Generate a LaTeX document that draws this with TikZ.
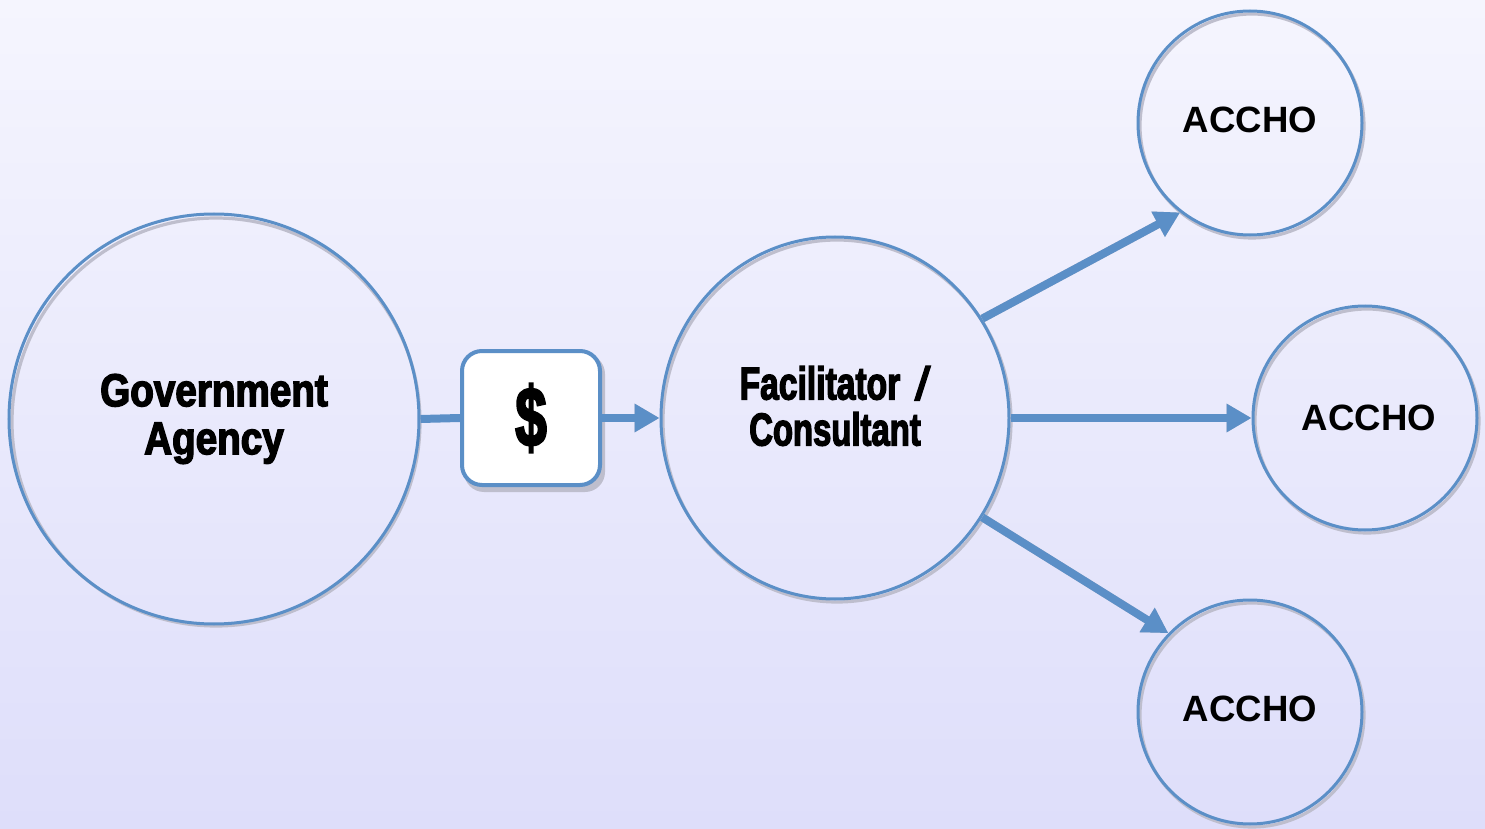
\documentclass[tikz,border=0pt]{standalone}
\usepackage{fontspec}
\usepackage{graphicx}
\setmainfont{Liberation Sans}
\newfontfamily\heavyfont[FakeStretch=0.84,FakeBold=3]{Liberation Sans Bold}
\newfontfamily\labelfont{Liberation Sans Bold}
\usetikzlibrary{arrows.meta,shapes.geometric}
\definecolor{edgeblue}{RGB}{91,143,199}
\definecolor{bgtop}{RGB}{245,245,254}
\definecolor{bgbottom}{RGB}{222,222,250}
\definecolor{shadowgray}{RGB}{190,190,205}
\tikzset{
  ring/.style={circle, draw=edgeblue, line width=1.5pt, inner sep=0pt, align=center},
  oval/.style={ellipse, draw=edgeblue, line width=1.5pt, inner sep=0pt, align=center},
  ringshadow/.style={circle, draw=shadowgray, line width=1.6pt, inner sep=0pt},
  ovalshadow/.style={ellipse, draw=shadowgray, line width=1.6pt, inner sep=0pt},
  moneybox/.style={draw=edgeblue, line width=2pt, fill=white, rounded corners=10pt,
    minimum width=69pt, minimum height=67pt, inner sep=0pt},
  flow/.style={draw=edgeblue, line width=4pt, -{Triangle[length=12.5pt,width=13.5pt]}},
  flowshadow/.style={draw=shadowgray, line width=4pt, -{Triangle[length=12.5pt,width=13.5pt]}},
  link/.style={draw=edgeblue, line width=4pt},
  heavytext/.style={font=\heavyfont\fontsize{23}{25}\selectfont},
  accholabel/.style={font=\labelfont\fontsize{18.3}{20}\selectfont},
}
\begin{document}
\begin{tikzpicture}[x=0.5pt,y=-0.5pt]
  % background gradient
  \shade[top color=bgtop, bottom color=bgbottom] (0,0) rectangle (1485,829);
  \useasboundingbox (0,0) rectangle (1485,829);

  % soft shadows behind the circles and the box
  \node[ringshadow, minimum size=204pt] at (216,422) {};
  \node[ovalshadow, minimum width=174pt, minimum height=181pt] at (837,421) {};
  \node[ringshadow, minimum size=112pt] at (1252,126) {};
  \node[ringshadow, minimum size=112pt] at (1367,421) {};
  \node[ringshadow, minimum size=112pt] at (1252,715) {};
  \fill[shadowgray, rounded corners=10pt] (464,354) rectangle (605,492);

  % nodes
  \node[ring, minimum size=205pt, heavytext] (ga) at (214,419) {Government\\[-1pt]Agency};
  \node[moneybox, font=\heavyfont\fontsize{42}{42}\selectfont] (money) at (531,418)
    {\scalebox{0.8}[1]{\$}};
  \node[oval, minimum width=174pt, minimum height=181pt,
    label={[name=factext, heavytext, align=center, yshift=6pt]center:%
      \scalebox{0.87}[1]{Facilitator}\hspace{8pt}\textit{/}\\[-2pt]%
      \scalebox{0.85}[1]{Consultant}}] (fac) at (835,418) {};
  \node[ring, minimum size=112pt, accholabel] (a1) at (1250,123) {\raisebox{3.5pt}{ACCHO}};
  \node[ring, minimum size=112pt, accholabel] (a2) at (1365,418) {\hspace{4pt}\raisebox{-3pt}{ACCHO}};
  \node[ring, minimum size=112pt, accholabel] (a3) at (1250,712) {\raisebox{3.5pt}{ACCHO}};

  % connector shadows
  \begin{scope}[shift={(2,4)}]
    \draw[flowshadow] (money.east) -- (fac.west);
    \draw[flowshadow] (fac.34) -- (a1.232);
    \draw[flowshadow] (fac.east) -- (a2.west);
    \draw[flowshadow] (fac.-34) -- (a3.136);
  \end{scope}

  % connectors
  \draw[link] (ga.east) -- (money.west);
  \draw[flow] (money.east) -- (fac.west);
  \draw[flow] (fac.34) -- (a1.232);
  \draw[flow] (fac.east) -- (a2.west);
  \draw[flow] (fac.-34) -- (a3.136);
\end{tikzpicture}
\end{document}
